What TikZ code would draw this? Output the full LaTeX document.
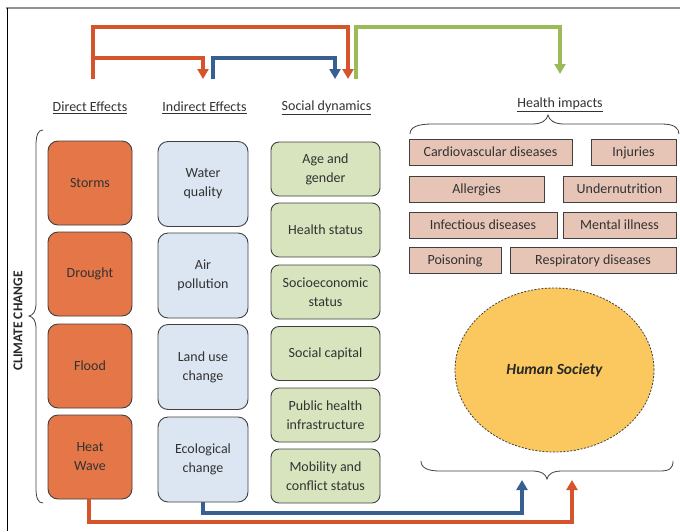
\documentclass[tikz,border=0pt]{standalone}
\usepackage{fontspec}
\setmainfont{Carlito}
\usetikzlibrary{arrows.meta}
\usetikzlibrary{shapes.geometric}
\definecolor{dirorange}{RGB}{228,118,72}
\definecolor{indblue}{RGB}{220,230,242}
\definecolor{socgreen}{RGB}{215,228,189}
\definecolor{hlthpink}{RGB}{230,196,182}
\definecolor{socyellow}{RGB}{250,200,94}
\definecolor{arrorange}{RGB}{214,84,44}
\definecolor{arrblue}{RGB}{55,96,146}
\definecolor{arrgreen}{RGB}{155,187,89}
\definecolor{boxline}{RGB}{64,64,64}
\definecolor{txtgray}{RGB}{50,50,50}
\newcommand{\boxfont}{\fontsize{14}{19}\selectfont}
\tikzset{direct/.style = {draw=boxline, line width=0.9pt, fill=dirorange, rounded corners=10pt,
                          minimum width=84pt, minimum height=84pt, align=center,
                          font=\boxfont, text=txtgray},
         indirect/.style = {direct, fill=indblue, minimum width=90pt, minimum height=85pt},
         social/.style = {direct, fill=socgreen, rounded corners=8pt,
                          minimum width=109pt, minimum height=54pt},
         impact/.style = {draw=boxline, line width=0.9pt, fill=hlthpink, minimum height=26pt,
                          font=\boxfont, text=txtgray, inner sep=0pt, text depth=1pt},
         header/.style = {font=\boxfont, text=txtgray},
         flow/.style = {line width=3.2pt, -{Triangle[width=11pt,length=10pt]}},
         brace/.style = {draw=boxline, line width=0.8pt}}

\begin{document}
\begin{tikzpicture}[x=1pt, y=-1pt]
      \useasboundingbox (0,0) rectangle (680,531);
      \draw [gray!85, line width=2pt] (6,8) -- (680,8);
      \draw [black, line width=0.8pt] (7,8) -- (7,531);

      \node [header] (dir) at (90,108) {\underline{Direct Effects}};
      \node [header] (ind) at (204.5,108) {\underline{Indirect Effects}};
      \node [header] (soc) at (326.5,108) {\underline{Social dynamics}};
      \node [header] (hlth) at (560,105) {\underline{Health impacts}};

      \node [direct] (storms) at (90,183) {Storms};
      \node [direct] (drought) at (90,274) {Drought};
      \node [direct] (flood) at (90,366) {Flood};
      \node [direct] (heat) at (90,457) {Heat\\Wave};

      \node [indirect] (water) at (203,184) {Water\\quality};
      \node [indirect] (air) at (203,275.5) {Air\\pollution};
      \node [indirect] (land) at (203,367) {Land use\\change};
      \node [indirect] (eco) at (203,459.5) {Ecological\\change};

      \node [social] (age) at (325.5,169) {Age and\\gender};
      \node [social] (hstat) at (325.5,230) {Health status};
      \node [social] (socio) at (325.5,292) {Socioeconomic\\status};
      \node [social] (capital) at (325.5,353.5) {Social capital};
      \node [social] (public) at (325.5,415) {Public health\\infrastructure};
      \node [social] (mobility) at (325.5,476) {Mobility and\\conflict status};

      \node [impact, minimum width=163pt] (cardio) at (490.5,152) {Cardiovascular diseases};
      \node [impact, minimum width=85pt] (injuries) at (633.5,152) {Injuries};
      \node [impact, minimum width=135pt] (allergies) at (476.5,189) {Allergies};
      \node [impact, minimum width=113pt] (undernut) at (619.5,189) {Undernutrition};
      \node [impact, minimum width=148pt] (infect) at (483,225) {Infectious diseases};
      \node [impact, minimum width=113pt] (mental) at (619.5,225) {Mental illness};
      \node [impact, minimum width=92pt] (poison) at (455,260.5) {Poisoning};
      \node [impact, minimum width=166pt] (resp) at (593,260.5) {Respiratory diseases};

      \node [ellipse, draw=boxline, line width=0.8pt, dash pattern=on 2pt off 1.5pt,
             fill=socyellow, minimum width=199pt, minimum height=164pt,
             font=\fontsize{15.5}{18}\selectfont\bfseries\itshape, text=txtgray!80!black]
             (society) at (554.5,370) {Human Society};

      \node [rotate=90, font=\fontsize{13.5}{16}\selectfont\bfseries, text=txtgray!80!black]
             (climate) at (18,321) {CLIMATE CHANGE};

      \draw [brace] (43,130) .. controls (38,130) and (36,135) .. (36,146) -- (36,303)
                    .. controls (36,312) and (33,315) .. (29,316) .. controls (33,317) and (36,320) .. (36,329)
                    -- (36,488) .. controls (36,498) and (38,503) .. (43,503);
      \draw [brace] (410,134) .. controls (410,127) and (418,124) .. (432,124) -- (532,124)
                    .. controls (542,124) and (547,120) .. (548,115) .. controls (549,120) and (554,124) .. (564,124)
                    -- (662,124) .. controls (674,124) and (679,128) .. (679,134);
      \draw [brace] (421,461) .. controls (421,468) and (428,471) .. (440,471) -- (532,471)
                    .. controls (541,471) and (546,474) .. (547,479) .. controls (548,474) and (553,471) .. (562,471)
                    -- (660,471) .. controls (670,471) and (673,468) .. (673,461);

      \coordinate (otop) at (0,27);
      \coordinate (obr) at (0,58);
      \coordinate (d0) at (93,79);
      \coordinate (i0) at (213,79);
      \coordinate (i1) at (203,79);
      \coordinate (s0) at (356,79);
      \coordinate (s1) at (348,79);
      \coordinate (s2) at (335,79);
      \coordinate (h1) at (560,74);
      \coordinate (bbot) at (0,513);
      \coordinate (obot) at (0,522);
      \coordinate (hsL) at (522,480);
      \coordinate (hsR) at (572,480);

      \draw [flow, arrorange] (d0) -- (d0 |- otop) -| (s1);
      \draw [flow, arrorange] (d0 |- obr) -| (i1);
      \draw [flow, arrblue] (i0) -- (i0 |- obr) -| (s2);
      \draw [flow, arrgreen] (s0) -- (s0 |- otop) -| (h1);

      \draw [flow, arrblue] (eco.south) -- (eco.south |- bbot) -| (hsL);
      \draw [flow, arrorange] ([xshift=-1pt]heat.south) -- ([xshift=-1pt]heat.south |- obot) -| (hsR);

    \end{tikzpicture}
\end{document}
